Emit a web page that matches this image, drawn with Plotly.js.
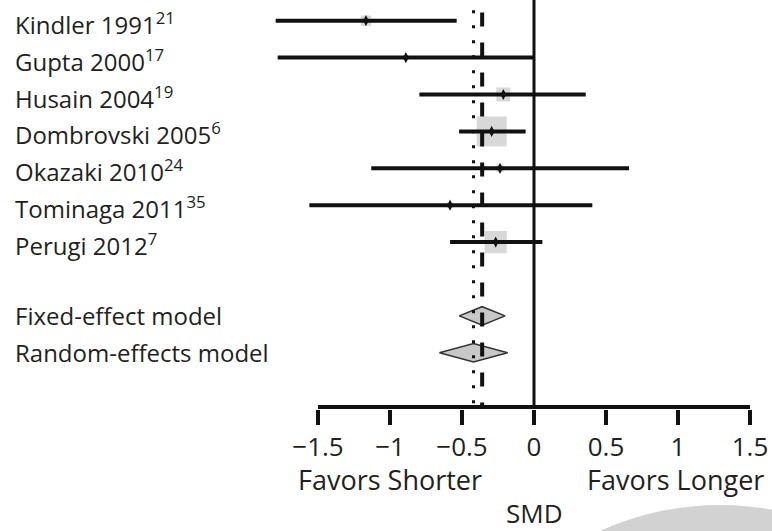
<!DOCTYPE html>
<html>
<head>
<meta charset="utf-8">
<script src="https://cdn.plot.ly/plotly-3.0.1.min.js"></script>
<style>html,body{margin:0;padding:0;background:#fff;}#chart{width:772px;height:531px;}</style>
</head>
<body>
<div id="chart"></div>
<script>
// ---- data ----
const studies = ["Kindler 1991", "Gupta 2000", "Husain 2004", "Dombrovski 2005", "Okazaki 2010", "Tominaga 2011", "Perugi 2012"];
const refs = ["21", "17", "19", "6", "24", "35", "7"];
const smd = [-1.167, -0.89, -0.213, -0.294, -0.236, -0.583, -0.266];
const ciLow = [-1.794, -1.78, -0.796, -0.52, -1.13, -1.56, -0.583];
const ciHigh = [-0.537, 0.0, 0.359, -0.058, 0.66, 0.405, 0.058];
const weights = [1.2, 0.3, 2.2, 10, 0.6, 0.4, 5.5];   // relative weight (box area)
const models = ["Fixed-effect model", "Random-effects model"];
const modelEst = [-0.36, -0.42];
const modelLow = [-0.519, -0.657];
const modelHigh = [-0.201, -0.183];
const tickVals = [-1.5, -1, -0.5, 0, 0.5, 1, 1.5];
const tickText = ["\u22121.5", "\u22121", "\u22120.5", "0", "0.5", "1", "1.5"];
const sideLabels = ["Favors Shorter", "Favors Longer"];
const sideLabelX = [-1.0, 0.98];
const axisTitle = "SMD";

// ---- layout helpers ----
const FONT = "Open Sans, sans-serif";
const TXT = "#231f20";
const studyRows = studies.map((s, i) => i + 1);
const modelRows = models.map((m, i) => studies.length + 2 + i);
const maxW = Math.max(...weights);
const boxSizes = weights.map(w => 30 * Math.sqrt(w / maxW));

const traces = [];
// weight boxes
traces.push({
  type: "scatter", mode: "markers", x: smd, y: studyRows,
  marker: {symbol: "square", size: boxSizes, color: "#c8c8c8", line: {width: 0}},
  hoverinfo: "skip", showlegend: false
});
// CI lines
studies.forEach((s, i) => {
  traces.push({
    type: "scatter", mode: "lines", x: [ciLow[i], ciHigh[i]], y: [studyRows[i], studyRows[i]],
    line: {color: "#111", width: 4}, hoverinfo: "skip", showlegend: false
  });
});
// point estimates
traces.push({
  type: "scatter", mode: "markers", x: smd, y: studyRows,
  marker: {symbol: "diamond-tall", size: 8, color: "#111"},
  hoverinfo: "skip", showlegend: false
});
// summary diamonds
const dh = 0.25;
models.forEach((m, i) => {
  const r = modelRows[i];
  traces.push({
    type: "scatter", mode: "lines",
    x: [modelLow[i], modelEst[i], modelHigh[i], modelEst[i], modelLow[i]],
    y: [r, r - dh, r, r + dh, r],
    fill: "toself", fillcolor: "#c8c8c8", line: {color: "#333", width: 1.5},
    hoverinfo: "skip", showlegend: false
  });
});

const labelX = (13 - 534) / 144;
const annotations = [];
studies.forEach((s, i) => {
  annotations.push({
    x: labelX, y: studyRows[i] + 0.07, xref: "x", yref: "y", xanchor: "left", yanchor: "middle",
    text: s + "<sup>" + refs[i] + "</sup>", showarrow: false,
    font: {family: FONT, size: 24, color: TXT}
  });
});
models.forEach((m, i) => {
  annotations.push({
    x: labelX, y: modelRows[i] + 0.0, xref: "x", yref: "y", xanchor: "left", yanchor: "middle",
    text: m, showarrow: false, font: {family: FONT, size: 24, color: TXT}
  });
});
sideLabels.forEach((t, i) => {
  annotations.push({
    x: sideLabelX[i], y: -0.172, xref: "x", yref: "paper", xanchor: "center", yanchor: "middle",
    text: t, showarrow: false, font: {family: FONT, size: 27, color: TXT}
  });
});
annotations.push({
  x: 0, y: -0.254, xref: "x", yref: "paper", xanchor: "center", yanchor: "middle",
  text: axisTitle, showarrow: false, font: {family: FONT, size: 26, color: TXT}
});

const plotBottomPx = 409, H = 531, W = 772;
const shapes = [
  // decorative grey circle at bottom right
  {type: "circle", xref: "paper", yref: "paper", layer: "below",
   x0: 430 / W, x1: 1010 / W, y0: (plotBottomPx - 1085) / plotBottomPx, y1: (plotBottomPx - 505) / plotBottomPx,
   fillcolor: "#d2d2d2", line: {width: 0}},
  // axis line
  {type: "line", xref: "x", yref: "y", x0: tickVals[0], x1: tickVals[tickVals.length - 1], y0: 11.47, y1: 11.47,
   line: {color: "#111", width: 4}},
  // no-effect line
  {type: "line", xref: "x", yref: "paper", x0: 0, x1: 0, y0: 0, y1: 1, line: {color: "#111", width: 3}},
  // fixed-effect estimate (dashed)
  {type: "line", xref: "x", yref: "y", x0: modelEst[0], x1: modelEst[0], y0: 0.78, y1: 11.47,
   line: {color: "#111", width: 4, dash: "14px,16px"}},
  // random-effects estimate (dotted)
  {type: "line", xref: "x", yref: "y", x0: modelEst[1], x1: modelEst[1], y0: 0.72, y1: 11.47,
   line: {color: "#111", width: 3, dash: "3px,12px"}}
];

const layout = {
  width: W, height: H,
  margin: {l: 0, r: 0, t: 0, b: H - plotBottomPx, pad: 0},
  paper_bgcolor: "#fff", plot_bgcolor: "rgba(0,0,0,0)",
  xaxis: {
    range: [-534 / 144, (W - 534) / 144], showgrid: false, zeroline: false, showline: false,
    tickvals: tickVals, ticktext: tickText, ticks: "outside", ticklen: 15, tickwidth: 3.5, tickcolor: "#111",
    tickfont: {family: FONT, size: 26, color: TXT}, fixedrange: true
  },
  yaxis: {
    range: [11.523, 0.439], showgrid: false, zeroline: false, showline: false, showticklabels: false,
    ticks: "", fixedrange: true
  },
  shapes: shapes, annotations: annotations, showlegend: false
};

Plotly.newPlot("chart", traces, layout, {displayModeBar: false, staticPlot: true});
</script>
</body>
</html>
